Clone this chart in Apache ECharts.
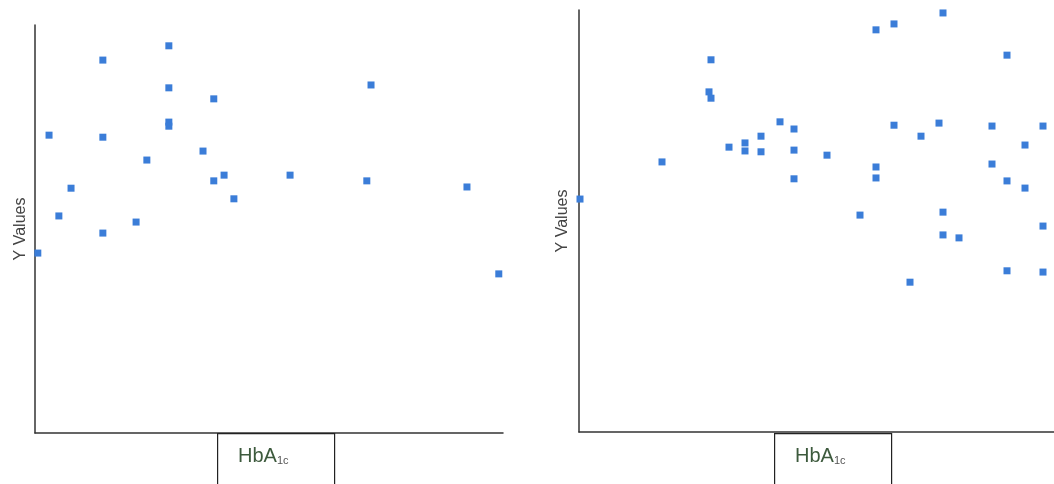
<!DOCTYPE html>
<html>
<head>
<meta charset="utf-8">
<script src="https://cdn.jsdelivr.net/npm/echarts@6/dist/echarts.min.js"></script>
<style>html,body{margin:0;padding:0;background:#fff}#c{width:1054px;height:484px}</style>
</head>
<body>
<div id="c"></div>
<script>
// Left panel data (arbitrary units 0-100)
var leftX = [0.6, 3.0, 5.1, 7.7, 14.5, 14.5, 14.5, 21.6, 23.9, 28.6, 28.6, 28.6, 28.6, 35.9, 38.2, 38.2, 40.4, 42.5, 54.5, 70.9, 71.8, 92.3, 99.1];
var leftY = [44.1, 73.0, 53.2, 60.0, 91.4, 72.5, 49.0, 51.7, 66.9, 94.9, 84.6, 76.2, 75.2, 69.1, 81.9, 61.8, 63.2, 57.4, 63.2, 61.8, 85.3, 60.3, 39.0];
// Right panel data (x axis continues past the picture edge)
var rightX = [0.2, 16.6, 26.4, 26.0, 26.4, 30.0, 33.2, 33.2, 36.4, 36.4, 40.2, 43.0, 43.0, 43.0, 49.6, 56.2, 59.4, 59.4, 59.4, 63.0, 63.0, 66.2, 68.4, 72.0, 72.8, 72.8, 72.8, 76.0, 82.6, 82.6, 85.6, 85.6, 85.6, 89.2, 89.2, 92.8, 92.8, 92.8];
var rightY = [55.2, 64.0, 88.2, 80.6, 79.1, 67.5, 68.5, 66.6, 70.1, 66.4, 73.5, 71.8, 66.8, 60.0, 65.6, 51.4, 95.3, 62.8, 60.2, 96.7, 72.7, 35.5, 70.1, 73.2, 99.3, 52.1, 46.7, 46.0, 72.5, 63.5, 89.3, 59.5, 38.2, 68.0, 57.8, 72.5, 48.8, 37.9];
var axisTitleY = 'Y Values';
var axisTitleX = ['HbA', '1c'];

function zip(xs, ys) { return xs.map(function (v, i) { return [v, ys[i]]; }); }

var chart = echarts.init(document.getElementById('c'));
var axisLine = { show: true, lineStyle: { color: '#333', width: 1.5 } };
function xa(idx, max) {
  return { type: 'value', gridIndex: idx, min: 0, max: max, axisLine: axisLine, axisTick: { show: false }, axisLabel: { show: false }, splitLine: { show: false } };
}
function ya(idx, gap) {
  return { type: 'value', gridIndex: idx, min: 0, max: 100, axisLine: axisLine, axisTick: { show: false }, axisLabel: { show: false }, splitLine: { show: false },
    name: axisTitleY, nameLocation: 'middle', nameGap: gap, nameRotate: 90,
    nameTextStyle: { color: '#444', fontSize: 16, fontFamily: 'Liberation Sans, Arial, sans-serif' } };
}
function box(left) {
  return [
    { type: 'rect', left: left, top: 433, shape: { width: 117, height: 60 }, style: { fill: '#fff', stroke: '#222', lineWidth: 1.2 }, z: 10 },
    { type: 'text', left: left + 21, top: 446, z: 11,
      style: { text: '{a|' + axisTitleX[0] + '}{b|' + axisTitleX[1] + '}',
        rich: { a: { fontSize: 20, fill: '#3d5a3d', fontFamily: 'Liberation Sans, Arial, sans-serif', verticalAlign: 'bottom', lineHeight: 24 },
                b: { fontSize: 11, fill: '#555', fontFamily: 'Liberation Sans, Arial, sans-serif', verticalAlign: 'bottom', lineHeight: 18 } } } }
  ];
}
var markerColor = '#3b7dd8';
chart.setOption({
  animation: false,
  grid: [
    { left: 35, top: 25, width: 468, height: 408 },
    { left: 579, top: 10, width: 475, height: 422 }
  ],
  xAxis: [xa(0, 100), xa(1, 95)],
  yAxis: [ya(0, 6), ya(1, 8)],
  series: [
    { type: 'scatter', xAxisIndex: 0, yAxisIndex: 0, symbol: 'rect', symbolSize: 7, itemStyle: { color: markerColor, opacity: 1 }, data: zip(leftX, leftY) },
    { type: 'scatter', xAxisIndex: 1, yAxisIndex: 1, symbol: 'rect', symbolSize: 7, itemStyle: { color: markerColor, opacity: 1 }, data: zip(rightX, rightY) }
  ],
  graphic: box(217).concat(box(774))
});
</script>
</body>
</html>
